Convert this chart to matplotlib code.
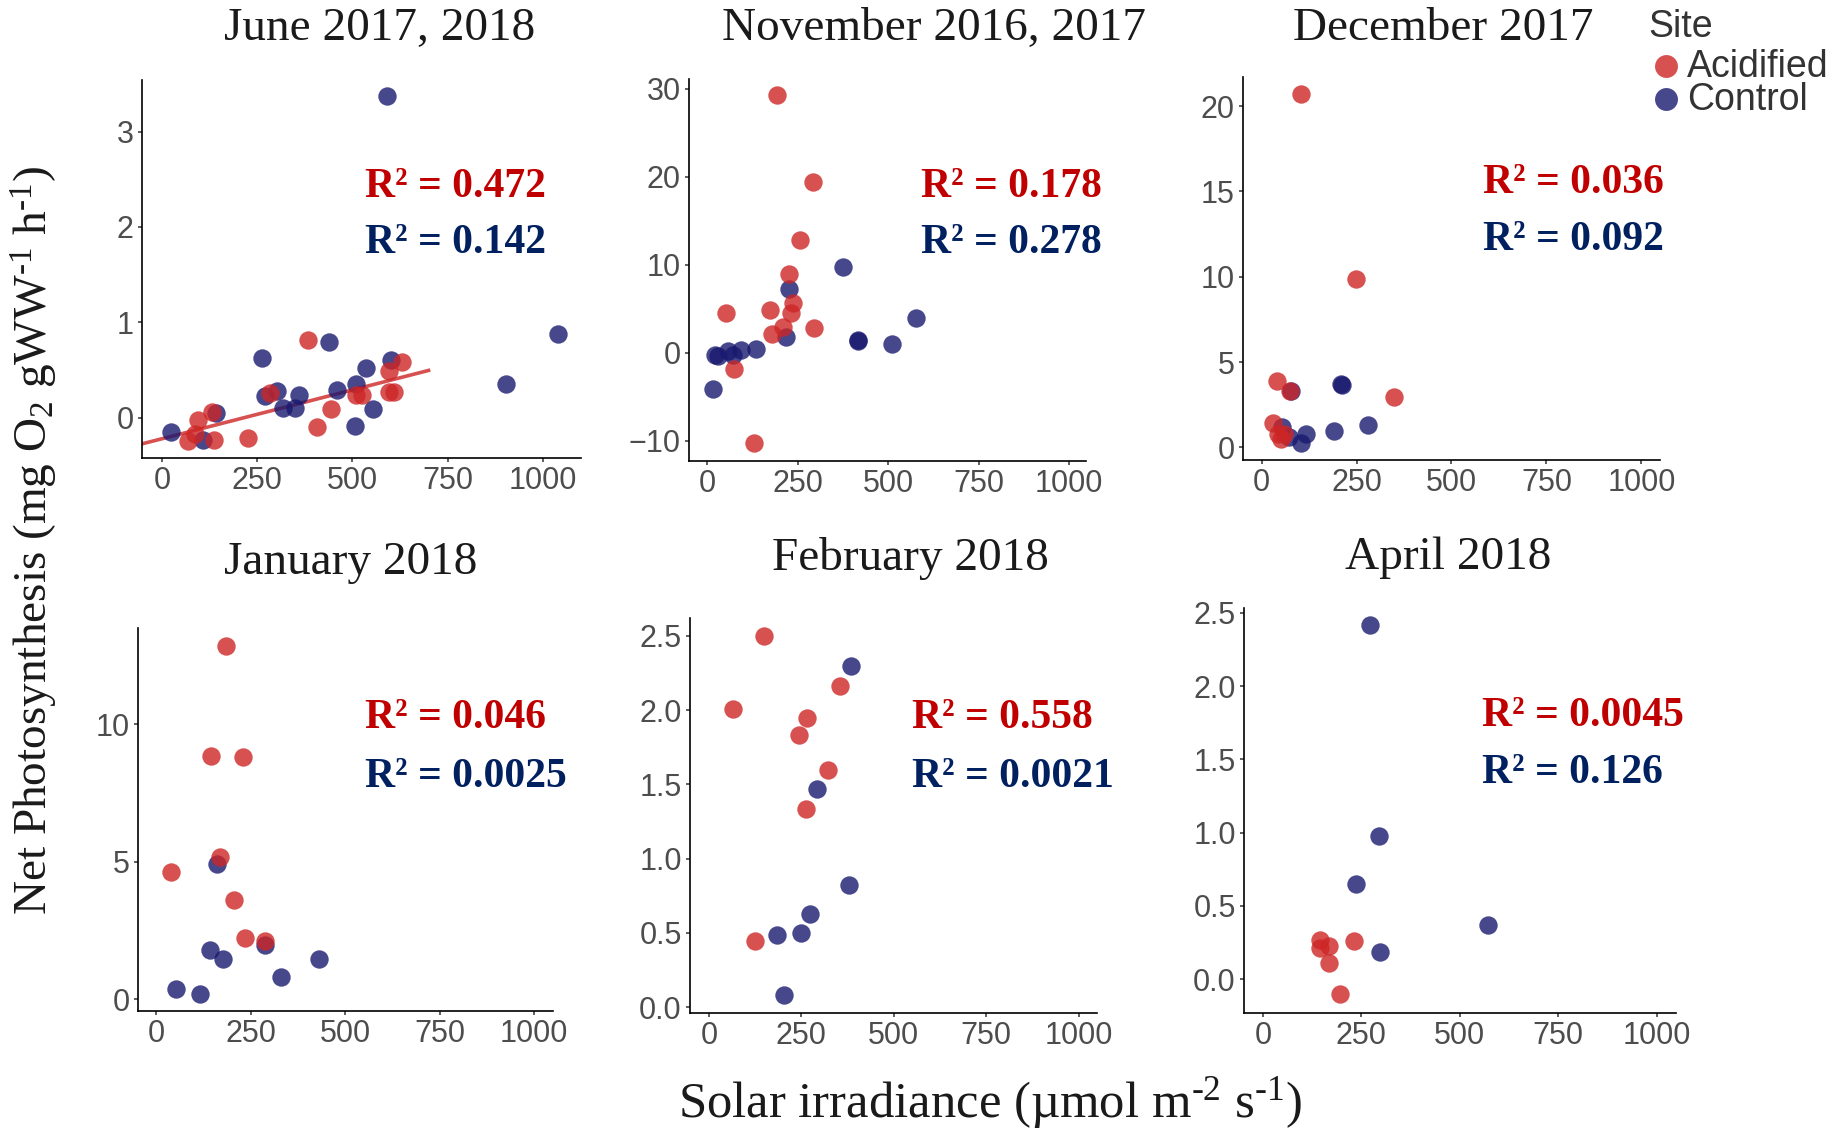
import matplotlib
matplotlib.use("Agg")
import numpy as np
import matplotlib.pyplot as plt
from matplotlib.lines import Line2D

plt.rcParams['font.family'] = ['Liberation Sans', 'DejaVu Sans']
plt.rcParams['mathtext.fontset'] = 'custom'
plt.rcParams['mathtext.rm'] = 'Liberation Serif'
plt.rcParams['mathtext.it'] = 'Liberation Serif:italic'
plt.rcParams['mathtext.bf'] = 'Liberation Serif:bold'

# ---- data ----
titles = ["June 2017, 2018", "November 2016, 2017", "December 2017",
          "January 2018", "February 2018", "April 2018"]

jun_acid_x = [70, 88, 94, 137, 131, 227, 284, 383, 407, 444, 510, 525, 595, 595, 608, 630]
jun_acid_y = [-0.24, -0.17, -0.02, -0.23, 0.06, -0.21, 0.26, 0.82, -0.10, 0.09, 0.24, 0.24, 0.49, 0.27, 0.27, 0.59]
jun_ctrl_x = [590, 1039, 903, 24, 109, 143, 262, 271, 302, 317, 350, 361, 439, 459, 508, 510, 536, 553, 601]
jun_ctrl_y = [3.37, 0.88, 0.35, -0.15, -0.23, 0.05, 0.63, 0.23, 0.28, 0.10, 0.10, 0.24, 0.80, 0.29, -0.08, 0.35, 0.52, 0.09, 0.61]

nov_acid_x = [194, 293, 256, 227, 238, 231, 52, 173, 178, 210, 296, 75, 129]
nov_acid_y = [29.3, 19.4, 12.8, 9.0, 5.7, 4.5, 4.5, 4.8, 2.1, 2.9, 2.8, -1.9, -10.3]
nov_ctrl_x = [376, 225, 219, 577, 416, 418, 510, 15, 21, 30, 58, 72, 95, 136]
nov_ctrl_y = [9.7, 7.2, 1.8, 3.9, 1.3, 1.4, 1.0, -4.1, -0.3, -0.4, 0.2, -0.3, 0.3, 0.4]

dec_acid_x = [105, 249, 349, 40, 75, 31, 42, 52, 60]
dec_acid_y = [20.7, 9.84, 2.97, 3.9, 3.3, 1.4, 0.8, 0.5, 0.8]
dec_ctrl_x = [77, 209, 211, 281, 191, 117, 105, 54, 71]
dec_ctrl_y = [3.3, 3.7, 3.65, 1.3, 0.96, 0.78, 0.27, 1.2, 0.6]

jan_acid_x = [185, 146, 230, 168, 40, 207, 236, 287]
jan_acid_y = [12.86, 8.85, 8.82, 5.16, 4.64, 3.60, 2.23, 2.12]
jan_ctrl_x = [162, 143, 177, 289, 430, 331, 52, 117]
jan_ctrl_y = [4.92, 1.81, 1.46, 1.97, 1.48, 0.81, 0.39, 0.21]

feb_acid_x = [148, 65, 266, 244, 354, 322, 262, 126]
feb_acid_y = [2.50, 2.005, 1.945, 1.83, 2.165, 1.594, 1.333, 0.443]
feb_ctrl_x = [385, 292, 378, 273, 248, 183, 203]
feb_ctrl_y = [2.30, 1.468, 0.821, 0.625, 0.499, 0.488, 0.079]

apr_acid_x = [146, 146, 167, 167, 231, 197]
apr_acid_y = [0.264, 0.212, 0.223, 0.109, 0.257, -0.102]
apr_ctrl_x = [273, 294, 236, 572, 297]
apr_ctrl_y = [2.42, 0.979, 0.649, 0.371, 0.184]

r2_acid = ["0.472", "0.178", "0.036", "0.046", "0.558", "0.0045"]
r2_ctrl = ["0.142", "0.278", "0.092", "0.0025", "0.0021", "0.126"]

x_ticks = [0, 250, 500, 750, 1000]
y_ticks = [[0, 1, 2, 3], [-10, 0, 10, 20, 30], [0, 5, 10, 15, 20],
           [0, 5, 10], [0, 0.5, 1, 1.5, 2, 2.5], [0, 0.5, 1, 1.5, 2, 2.5]]
y_fmt = ["{:g}", "{:g}", "{:g}", "{:g}", "{:.1f}", "{:.1f}"]

acid = [(jun_acid_x, jun_acid_y), (nov_acid_x, nov_acid_y), (dec_acid_x, dec_acid_y),
        (jan_acid_x, jan_acid_y), (feb_acid_x, feb_acid_y), (apr_acid_x, apr_acid_y)]
ctrl = [(jun_ctrl_x, jun_ctrl_y), (nov_ctrl_x, nov_ctrl_y), (dec_ctrl_x, dec_ctrl_y),
        (jan_ctrl_x, jan_ctrl_y), (feb_ctrl_x, feb_ctrl_y), (apr_ctrl_x, apr_ctrl_y)]

# ---- layout (pixels of the 1840x1129 canvas) ----
W, H = 1840, 1129
boxes = [(142, 80, 581, 458), (689, 79, 1086, 461), (1243, 77, 1660, 460),
         (138, 628, 553, 1011), (690, 618, 1097, 1013), (1244, 608, 1676, 1013)]
xlims = [(-52, 1100), (-50, 1047), (-49, 1049), (-48, 1050), (-51, 1050), (-48, 1049)]
ylims = [(-0.42, 3.54), (-12.3, 31.1), (-0.74, 21.7), (-0.42, 13.5), (-0.04, 2.62), (-0.232, 2.534)]
title_pos = [(380, 29), (934, 29), (1443, 29), (351, 563), (910, 558), (1448, 558)]
r2_pos = [(365, 197, 253), (921, 197, 253), (1483, 193, 250),
          (365, 728, 787), (912, 728, 787), (1482, 726, 783)]

RED = '#CD2626'
BLUE = '#191970'
TXT_RED = '#C00000'
TXT_BLUE = '#002060'
HY = '\u2010'  # plain hyphen for the unit exponents

fig = plt.figure(figsize=(W / 100, H / 100), dpi=100)

def fx(px):
    return px / W

def fy(py):
    return 1 - py / H

for i in range(6):
    l, t, r, b = boxes[i]
    ax = fig.add_axes([fx(l), fy(b), (r - l) / W, (b - t) / H])
    ax.scatter(ctrl[i][0], ctrl[i][1], s=175, color=BLUE, alpha=0.8, linewidths=0, zorder=3)
    ax.scatter(acid[i][0], acid[i][1], s=175, color=RED, alpha=0.8, linewidths=0, zorder=3)
    if i == 0:
        # linear fit, acidified only
        k, c = np.polyfit(jun_acid_x, jun_acid_y, 1)
        xx = np.array([xlims[0][0], 700])
        ax.plot(xx, k * xx + c, color=RED, alpha=0.8, lw=2.6, zorder=2)
    ax.set_xlim(*xlims[i])
    ax.set_ylim(*ylims[i])
    ax.set_xticks(x_ticks)
    ax.set_yticks(y_ticks[i])
    ax.set_yticklabels([y_fmt[i].format(v).replace('-', '\u2212') for v in y_ticks[i]])
    for s in ['top', 'right']:
        ax.spines[s].set_visible(False)
    for s in ['left', 'bottom']:
        ax.spines[s].set_linewidth(1.2)
        ax.spines[s].set_color('black')
    ax.tick_params(length=3, width=1.1, color='#333333', labelsize=22,
                   labelcolor='#4D4D4D', pad=3)
    ax.patch.set_alpha(0)

    tx, ty = title_pos[i]
    fig.text(fx(tx), fy(ty), titles[i], ha='center', va='center',
             family='Liberation Serif', fontsize=34, color='#1a1a1a')
    rx, ry1, ry2 = r2_pos[i]
    fig.text(fx(rx), fy(ry1), "R\u00b2 = " + r2_acid[i], ha='left', va='baseline',
             family='Liberation Serif', weight='bold', fontsize=30, color=TXT_RED)
    fig.text(fx(rx), fy(ry2), "R\u00b2 = " + r2_ctrl[i], ha='left', va='baseline',
             family='Liberation Serif', weight='bold', fontsize=30, color=TXT_BLUE)

# axis titles
fig.text(fx(35), fy(540), "Net Photosynthesis (mg O$_2$ gWW$^{" + HY + "1}$ h$^{" + HY + "1}$)",
         rotation=90, ha='center', va='center', family='Liberation Serif',
         fontsize=34, color='#1a1a1a')
fig.text(fx(990), fy(1103), "Solar irradiance (µmol m$^{" + HY + "2}$ s$^{" + HY + "1}$)",
         ha='center', va='center', family='Liberation Serif', fontsize=36.5, color='#1a1a1a')

# legend
fig.text(fx(1648), fy(27), "Site", ha='left', va='center', fontsize=27, color='#333333')
for name, col, yy in [("Acidified", RED, 66), ("Control", BLUE, 99)]:
    fig.add_artist(Line2D([fx(1666)], [fy(yy)], marker='o', markersize=16.5, color=col,
                          alpha=0.8, markeredgewidth=0, linestyle='none',
                          transform=fig.transFigure))
    fig.text(fx(1687), fy(yy + 1), name, ha='left', va='center', fontsize=27, color='#333333')

fig.savefig("out.png", dpi=100)
